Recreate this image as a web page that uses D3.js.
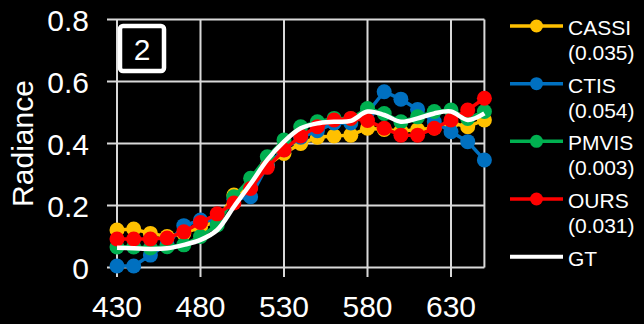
<!DOCTYPE html>
<html><head><meta charset="utf-8">
<script src="https://cdn.jsdelivr.net/npm/d3@7"></script>
<style>html,body{margin:0;padding:0;background:#000;}svg{display:block;}</style>
</head><body>
<script>
const wavelengths = [430,440,450,460,470,480,490,500,510,520,530,540,550,560,570,580,590,600,610,620,630,640,650];
const cassi = [0.121,0.124,0.11,0.10,0.11,0.13,0.15,0.234,0.26,0.33,0.368,0.40,0.42,0.424,0.427,0.449,0.445,0.44,0.444,0.45,0.466,0.454,0.476];
const ctis  = [0.005,0.005,0.04,0.075,0.135,0.153,0.15,0.22,0.228,0.33,0.38,0.42,0.441,0.466,0.466,0.50,0.567,0.543,0.51,0.47,0.438,0.406,0.347];
const pmvis = [0.066,0.066,0.063,0.067,0.073,0.10,0.137,0.228,0.288,0.357,0.411,0.454,0.47,0.481,0.48,0.513,0.497,0.47,0.486,0.503,0.508,0.481,0.503];
const ours  = [0.092,0.092,0.092,0.095,0.115,0.145,0.173,0.208,0.255,0.323,0.379,0.424,0.454,0.476,0.481,0.474,0.449,0.427,0.427,0.449,0.476,0.508,0.546];
const gt    = [0.064,0.062,0.06,0.062,0.073,0.089,0.121,0.196,0.27,0.347,0.406,0.449,0.465,0.47,0.473,0.503,0.492,0.47,0.481,0.497,0.503,0.476,0.497];
const seriesNames = ["CASSI","CTIS","PMVIS","OURS"];
const seriesErrors = ["(0.035)","(0.054)","(0.003)","(0.031)"];
const seriesColors = ["#FFC000","#0070C0","#00B050","#FF0000"];
const xTicks = [430,480,530,580,630];
const yTicks = [0,0.2,0.4,0.6,0.8];
const panelLabel = "2";

const W = 644, H = 324;
const svg = d3.select("body").append("svg").attr("width", W).attr("height", H)
  .style("font-family","'Liberation Sans', Arial, sans-serif");
svg.append("rect").attr("width",W).attr("height",H).attr("fill","#000");

const x = d3.scaleLinear().domain([430,650]).range([117,484.4]);
const y = d3.scaleLinear().domain([0,0.8]).range([267.5,19.5]);
const gridColor = "#d9d9d9";

// grid
const g = svg.append("g");
g.selectAll("line.h").data(yTicks).join("line")
  .attr("x1",107).attr("x2",x(650)).attr("y1",d=>y(d)).attr("y2",d=>y(d))
  .attr("stroke",gridColor).attr("stroke-width",2);
g.selectAll("line.v").data(xTicks).join("line")
  .attr("x1",d=>x(d)).attr("x2",d=>x(d)).attr("y1",y(0.8)).attr("y2",277)
  .attr("stroke",gridColor).attr("stroke-width",2);
g.append("line").attr("x1",x(650)).attr("x2",x(650)).attr("y1",y(0.8)).attr("y2",y(0))
  .attr("stroke",gridColor).attr("stroke-width",2);

// tick labels
svg.selectAll("text.yt").data(yTicks).join("text")
  .attr("x",89).attr("y",d=>y(d)+11).attr("text-anchor","end")
  .attr("fill","#fff").attr("font-size",30).text(d=>d===0?"0":d3.format(".1f")(d));
svg.selectAll("text.xt").data(xTicks).join("text")
  .attr("x",d=>x(d)).attr("y",317).attr("text-anchor","middle")
  .attr("fill","#fff").attr("font-size",30).text(d=>d);
svg.append("text").attr("transform",`translate(33,${(y(0)+y(0.8))/2}) rotate(-90)`)
  .attr("text-anchor","middle").attr("fill","#fff").attr("font-size",30).text("Radiance");

// panel label box
svg.append("rect").attr("x",120).attr("y",26).attr("width",44).attr("height",45).attr("rx",3)
  .attr("fill","#000").attr("stroke","#fff").attr("stroke-width",4.5);
svg.append("text").attr("x",142).attr("y",60).attr("text-anchor","middle")
  .attr("fill","#fff").attr("font-size",30).text(panelLabel);

// series
const allSeries = [cassi, ctis, pmvis, ours];
const line = d3.line().x((d,i)=>x(wavelengths[i])).y(d=>y(d));
allSeries.forEach((vals,k)=>{
  const sg = svg.append("g");
  sg.append("path").attr("d",line(vals)).attr("fill","none")
    .attr("stroke",seriesColors[k]).attr("stroke-width",3.5);
  sg.selectAll("circle").data(vals).join("circle")
    .attr("cx",(d,i)=>x(wavelengths[i])).attr("cy",d=>y(d)).attr("r",7.5)
    .attr("fill",seriesColors[k]);
});
const gtLine = d3.line().curve(d3.curveCatmullRom.alpha(0.5)).x((d,i)=>x(wavelengths[i])).y(d=>y(d));
svg.append("path").attr("d",gtLine(gt)).attr("fill","none").attr("stroke","#fff").attr("stroke-width",4.5);

// legend
const lx1 = 510, lx2 = 563, ltx = 568;
const rows = [26, 83.7, 141.3, 199, 256.7];
seriesNames.forEach((n,k)=>{
  const ry = rows[k];
  svg.append("line").attr("x1",lx1).attr("x2",lx2).attr("y1",ry).attr("y2",ry)
    .attr("stroke",seriesColors[k]).attr("stroke-width",3.5);
  svg.append("circle").attr("cx",(lx1+lx2)/2).attr("cy",ry).attr("r",6.5).attr("fill",seriesColors[k]);
  svg.append("text").attr("x",ltx).attr("y",ry+9).attr("fill","#fff").attr("font-size",21).text(n);
  svg.append("text").attr("x",ltx).attr("y",ry+34).attr("fill","#fff").attr("font-size",21).text(seriesErrors[k]);
});
svg.append("line").attr("x1",lx1).attr("x2",lx2).attr("y1",rows[4]).attr("y2",rows[4])
  .attr("stroke","#fff").attr("stroke-width",4);
svg.append("text").attr("x",ltx).attr("y",rows[4]+9).attr("fill","#fff").attr("font-size",21).text("GT");
</script>
</body></html>
